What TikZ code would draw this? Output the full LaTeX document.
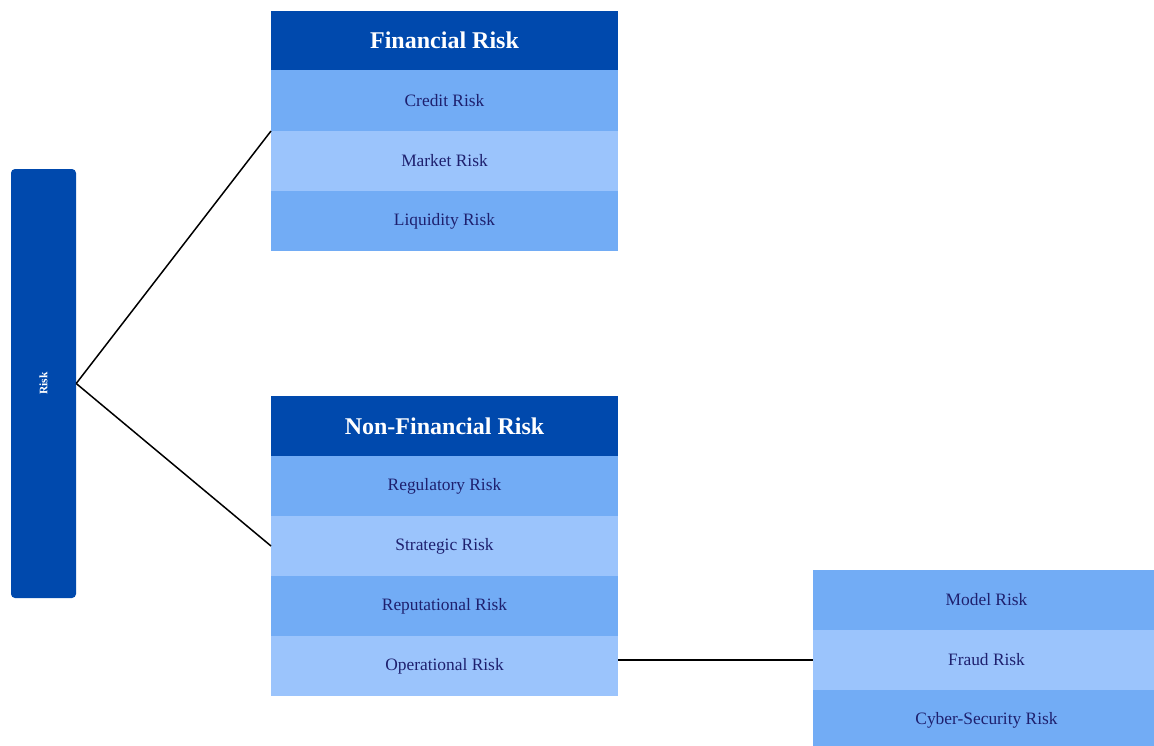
\documentclass[tikz,border=0pt]{standalone}
\usepackage{fontspec}
\setmainfont{Liberation Serif}
\definecolor{hdr}{RGB}{0,73,173}
\definecolor{midb}{RGB}{114,172,245}
\definecolor{lightb}{RGB}{155,196,252}
\definecolor{txt}{RGB}{30,32,110}
\tikzset{
  cell/.style={rectangle, inner sep=0pt, outer sep=0pt, text=txt,
    font=\fontsize{17.4}{20}\selectfont},
  hdrcell/.style={cell, fill=hdr, text=white, font=\bfseries\fontsize{24}{28}\selectfont},
  midcell/.style={cell, fill=midb},
  lightcell/.style={cell, fill=lightb},
  link/.style={draw=black, line width=1.5pt},
}
\begin{document}
\begin{tikzpicture}[x=1pt,y=-1pt]
\useasboundingbox (0,0) rectangle (1154,745);
\fill[white] (0,0) rectangle (1154,745);
% Risk root
\node[rectangle, rounded corners=4pt, fill=hdr, minimum width=65pt, minimum height=429pt, inner sep=0pt] (risk) at (43.5,383.5) {};
\node[rotate=90, text=white, font=\bfseries\fontsize{11.5}{13}\selectfont] (risklbl) at (risk.center) {Risk};
% Financial
\node[hdrcell, minimum width=347pt, minimum height=59pt] (fin) at (444.5,40.5) {Financial Risk};
\node[midcell, minimum width=347pt, minimum height=61pt] (credit) at (444.5,100.5) {Credit Risk};
\node[lightcell, minimum width=347pt, minimum height=60pt] (market) at (444.5,161) {Market Risk};
\node[midcell, minimum width=347pt, minimum height=60pt] (liq) at (444.5,221) {Liquidity Risk};
% Non-financial
\node[hdrcell, minimum width=347pt, minimum height=60pt] (nonfin) at (444.5,426) {Non-Financial Risk};
\node[midcell, minimum width=347pt, minimum height=60pt] (reg) at (444.5,486) {Regulatory Risk};
\node[lightcell, minimum width=347pt, minimum height=60pt] (strat) at (444.5,546) {Strategic Risk};
\node[midcell, minimum width=347pt, minimum height=60pt] (rep) at (444.5,606) {Reputational Risk};
\node[lightcell, minimum width=347pt, minimum height=60pt] (op) at (444.5,666) {Operational Risk};
% Operational sub-risks
\node[midcell, minimum width=347pt, minimum height=60pt] (model) at (986.5,600) {Model Risk};
\node[lightcell, minimum width=347pt, minimum height=60pt] (fraud) at (986.5,660) {Fraud Risk};
\node[midcell, minimum width=347pt, minimum height=60pt] (cyber) at (986.5,720) {Cyber-Security Risk};
% connectors
\draw[link] (risk.east) -- (credit.south west);
\draw[link] (risk.east) -- (strat.west);
\draw[link] (op.east |- fraud.west) -- (fraud.west);
\end{tikzpicture}
\end{document}
